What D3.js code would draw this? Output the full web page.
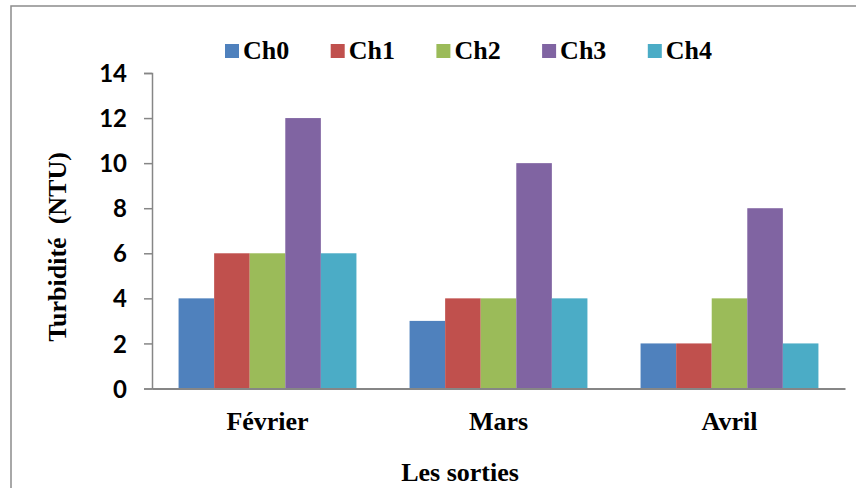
<!DOCTYPE html>
<html>
<head>
<meta charset="utf-8">
<script src="https://cdn.jsdelivr.net/npm/d3@7"></script>
<style>
  html, body { margin: 0; padding: 0; background: #fff; }
</style>
</head>
<body>
<div id="chart"></div>
<script>
// chart data
var months = ['Février', 'Mars', 'Avril'];
var seriesNames = ['Ch0', 'Ch1', 'Ch2', 'Ch3', 'Ch4'];
var ch0 = [4, 3, 2];
var ch1 = [6, 4, 2];
var ch2 = [6, 4, 4];
var ch3 = [12, 10, 8];
var ch4 = [6, 4, 2];
var yTicks = [0, 2, 4, 6, 8, 10, 12, 14];
var colors = ['#4F81BD', '#C0504D', '#9BBB59', '#8064A2', '#4BACC6'];

(function () {
    "use strict";

    var width = 856, height = 488;
    var values = [ch0, ch1, ch2, ch3, ch4];
    var serif = '"Liberation Serif", "Times New Roman", Times, "DejaVu Serif", serif';
    var sans = 'Lato, "Open Sans", sans-serif';

    var svg = d3.select('#chart').append('svg')
        .attr('width', width)
        .attr('height', height);

    // outer frame (runs off the right and bottom edges)
    svg.append('rect')
        .attr('x', 11).attr('y', 6)
        .attr('width', 900).attr('height', 600)
        .attr('fill', 'none')
        .attr('stroke', '#8c8c8c')
        .attr('stroke-width', 1.5);

    var plot = { left: 152, right: 845, top: 73, bottom: 388.5 };

    var x0 = d3.scaleBand()
        .domain(months)
        .range([plot.left, plot.right])
        .paddingInner(0.23)
        .paddingOuter(0.115);

    var x1 = d3.scaleBand()
        .domain(seriesNames)
        .range([0, x0.bandwidth()]);

    var y = d3.scaleLinear()
        .domain([0, 14])
        .range([plot.bottom, plot.top]);

    // bars
    var groups = svg.append('g').selectAll('g')
        .data(months)
        .enter().append('g')
        .attr('transform', function (d) { return 'translate(' + x0(d) + ',0)'; });

    groups.selectAll('rect')
        .data(function (m, i) {
            return seriesNames.map(function (s, j) {
                return { key: s, value: values[j][i], color: colors[j] };
            });
        })
        .enter().append('rect')
        .attr('x', function (d) { return x1(d.key); })
        .attr('y', function (d) { return y(d.value); })
        .attr('width', x1.bandwidth())
        .attr('height', function (d) { return y(0) - y(d.value); })
        .attr('fill', function (d) { return d.color; });

    // y axis
    var yAxis = svg.append('g')
        .attr('transform', 'translate(' + plot.left + ',0)')
        .call(d3.axisLeft(y).tickValues(yTicks).tickSize(8).tickPadding(17).tickSizeOuter(8));
    yAxis.select('.domain').attr('stroke', '#868686').attr('stroke-width', 1.5);
    yAxis.selectAll('.tick line').attr('stroke', '#868686').attr('stroke-width', 1.5);
    yAxis.selectAll('.tick text')
        .style('font-family', sans)
        .style('font-weight', 'bold')
        .style('font-size', '24px')
        .attr('fill', '#000')
        .attr('dy', '0.36em');

    // x axis
    var xAxis = svg.append('g')
        .attr('transform', 'translate(0,' + plot.bottom + ')')
        .call(d3.axisBottom(x0).tickSize(0).tickSizeOuter(0).tickPadding(0));
    xAxis.select('.domain').attr('stroke', '#868686').attr('stroke-width', 2);
    xAxis.selectAll('.tick text')
        .style('font-family', serif)
        .style('font-weight', 'bold')
        .style('font-size', '26px')
        .attr('fill', '#000')
        .attr('dy', null)
        .attr('y', 41);

    // axis titles
    svg.append('text')
        .attr('x', 460).attr('y', 481)
        .attr('text-anchor', 'middle')
        .style('font-family', serif)
        .style('font-weight', 'bold')
        .style('font-size', '26px')
        .text('Les sorties');

    svg.append('text')
        .attr('transform', 'translate(66,247) rotate(-90)')
        .attr('text-anchor', 'middle')
        .style('font-family', serif)
        .style('font-weight', 'bold')
        .style('font-size', '26px')
        .style('white-space', 'pre')
        .text('Turbidité  (NTU)');

    // legend
    var legend = svg.append('g')
        .selectAll('g')
        .data(seriesNames)
        .enter().append('g')
        .attr('transform', function (d, i) { return 'translate(' + (225 + i * 105.7) + ',44)'; });

    legend.append('rect')
        .attr('width', 14).attr('height', 14)
        .attr('fill', function (d, i) { return colors[i]; });

    legend.append('text')
        .attr('x', 18).attr('y', 15)
        .style('font-family', serif)
        .style('font-weight', 'bold')
        .style('font-size', '26px')
        .text(function (d) { return d; });
})();
</script>
</body>
</html>
